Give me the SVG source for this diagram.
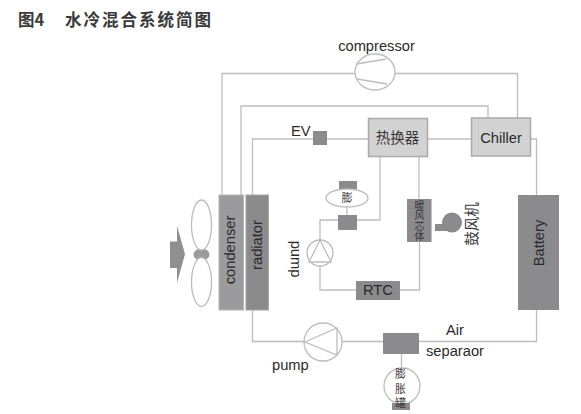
<svg xmlns="http://www.w3.org/2000/svg" width="581" height="414" viewBox="0 0 581 414">
<style>
.t{font-family:"Liberation Sans",Arial,sans-serif;font-size:14.700px;fill:#2a2a2c}
.c{font-family:"Noto Sans CJK SC","Liberation Sans",sans-serif;font-size:14.500px;fill:#3a3638}
.s{font-size:11px}
.h{font-family:"Noto Sans CJK SC",sans-serif;font-size:16.500px;font-weight:700;fill:#3a3a3a}
.m{text-anchor:middle}
.ln{fill:none;stroke:#bdbdbd;stroke-width:1.300}
.o{fill:#fff;stroke:#bdbdbd;stroke-width:1.300}
.l{fill:#d2d2d2;stroke:#a9a9a9;stroke-width:1.500}
.d{fill:#8b8a8c}
.g{fill:#9b9a9c;stroke:#b5b5b5}
</style>
<rect width="581" height="414" fill="#fff"/>
<text class="h" x="18" y="25.500">图4</text>
<text class="h" x="65" y="25.500" letter-spacing="2">水冷混合系统简图</text>
<g id="connectors">
<path class="ln" d="M222 195V73.500H517.500V118"/>
<path class="ln" d="M241 195V106H488V118"/>
<path class="ln" d="M252.500 195V139H368M428 139H471M531 139H536.500V195"/>
<path class="ln" d="M252.500 310V341.500H383M419 341.500H536.500V310"/>
<path class="ln" d="M401.500 354V368"/>
<path class="ln" d="M380 157V220H357"/>
<path class="ln" d="M419 157V199M419.500 242V290H400"/>
<path class="ln" d="M338 220H320V240M320 266V290H356"/>
<path class="ln" d="M347 207V215"/>
</g>
<g id="compressor">
<ellipse class="o" cx="375" cy="72" rx="20" ry="18"/>
<path class="ln" d="M357 64L386 59M357 79L387 84"/>
<text class="t m" x="376.500" y="51">compressor</text>
</g>
<g id="ev"><rect class="d" x="313" y="131" width="14" height="14"/><text class="t" x="291" y="136">EV</text></g>
<g id="heat-exchanger"><rect class="l" x="368.500" y="118.500" width="59" height="38"/><text class="c m" x="397.500" y="143">热换器</text></g>
<g id="chiller"><rect class="l" x="471.500" y="118" width="59" height="38"/><text class="t m" x="501" y="143">Chiller</text></g>
<g id="fan">
<path d="M170 241.500H177V226L185 254L177 283V268H170Z" fill="#8f8f91"/>
<ellipse cx="201.500" cy="254.500" rx="8" ry="6" fill="#9a9a9c"/>
<ellipse class="o" cx="201.500" cy="225" rx="10" ry="25"/>
<ellipse class="o" cx="201.500" cy="282" rx="10" ry="24.500"/>
</g>
<g id="condenser"><rect class="g" x="219" y="195" width="24.500" height="115"/><text class="t m" transform="translate(235,250) rotate(-90)">condenser</text></g>
<g id="radiator"><rect class="d" x="246" y="195" width="22.500" height="115" style="stroke:#a5a5a5"/><text class="t m" transform="translate(262,245) rotate(-90)">radiator</text></g>
<g id="battery"><rect class="d" x="518" y="195" width="41" height="115"/><text class="t m" transform="translate(544,243) rotate(-90)">Battery</text></g>
<g id="expansion-small">
<rect class="d" x="339" y="181" width="18" height="8"/>
<ellipse class="o" cx="347" cy="198" rx="21" ry="9"/>
<text class="c s m" x="347" y="202">膨</text>
<rect class="d" x="338" y="215" width="19" height="15"/>
</g>
<g id="dwund">
<circle class="o" cx="320" cy="253" r="13"/>
<path class="ln" d="M320 240L309 262H331Z"/>
<text class="t m" transform="translate(291,259) rotate(90)">pump</text>
</g>
<g id="rtc"><rect class="d" x="356" y="281" width="44" height="19"/><text class="t m" x="378" y="295">RTC</text></g>
<g id="heater-core">
<rect class="d" x="407" y="199" width="24.500" height="43"/>
<text class="c m" style="font-size:10px"><tspan x="419.500" y="208.500">暖</tspan><tspan x="419.500" y="219">风</tspan><tspan x="419.500" y="229.500">芯</tspan><tspan x="419.500" y="240">体</tspan></text>
</g>
<g id="blower">
<rect class="d" x="435" y="224" width="15" height="7"/>
<circle class="d" cx="452" cy="222.500" r="10"/>
<text class="c m" transform="translate(477,224) rotate(-90)">鼓风机</text>
</g>
<g id="pump">
<circle class="o" cx="323" cy="342" r="19"/>
<path class="ln" d="M305 342L337 328V355Z"/>
<text class="t" x="272" y="370">pump</text>
</g>
<g id="air-separator">
<rect class="d" x="383" y="333" width="36" height="21"/>
<text class="t" x="446" y="335">Air</text>
<text class="t" x="426" y="356">separaor</text>
</g>
<g id="expansion-tank">
<circle class="o" cx="402" cy="386" r="18"/>
<rect class="d" x="392" y="403" width="18" height="7"/>
<text class="c s m"><tspan x="400.500" y="378">膨</tspan><tspan x="400.500" y="392.500">胀</tspan><tspan x="400.500" y="406.500">罐</tspan></text>
</g>
</svg>
